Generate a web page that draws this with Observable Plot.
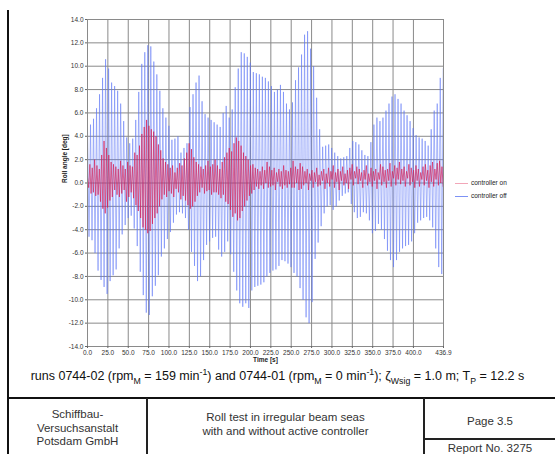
<!DOCTYPE html>
<html>
<head>
<meta charset="utf-8">
<script src="https://cdn.jsdelivr.net/npm/d3@7"></script>
<script src="https://cdn.jsdelivr.net/npm/@observablehq/plot@0.6"></script>
<style>
  html, body { margin: 0; padding: 0; background: #fff; }
  body { width: 555px; height: 454px; position: relative; overflow: hidden; font-family: "Liberation Sans", Arial, sans-serif; }
  #chart { position: absolute; left: 0; top: 0; }
  .abs { position: absolute; }
  .legend { font-size: 6.5px; color: #222; font-family: "Liberation Sans", Arial, sans-serif; }
  .legend span.sw { display: inline-block; width: 13px; height: 0; border-top: 1.5px solid; vertical-align: middle; margin-right: 3px; }
  .caption { font-size: 12.5px; color: #111; white-space: nowrap; text-align: center; width: 555px; }
  .cell { font-size: 11.5px; color: #333; text-align: center; line-height: 13.5px; }
  sub, sup { font-size: 70%; line-height: 0; }
</style>
</head>
<body>
<div id="chart"></div>
<script>
// ---- data ----
const xTicks = [0, 25, 50, 75, 100, 125, 150, 175, 200, 225, 250, 275, 300, 325, 350, 375, 400, 436.9];
const yTicks = [-14, -12, -10, -8, -6, -4, -2, 0, 2, 4, 6, 8, 10, 12, 14];
const tEnd = 436.9;

// controller off: successive roll extremes [deg], one every 1.85 s
const offStep = 1.85;
const offValues = [
  4.9, -4.6, 5.0, -4.9, 5.5, -6.0, 6.4, -7.5, 7.6, -8.3,
  9.0, -8.9, 10.6, -9.5, 9.8, -8.4, 8.6, -7.9, 8.3, -7.4,
  7.9, -5.6, 6.8, -4.4, 5.3, -3.6, 3.9, -3.0, 3.4, -2.8,
  3.8, -3.9, 5.4, -5.4, 7.8, -7.6, 10.2, -9.6, 11.2, -11.1,
  11.8, -11.3, 11.7, -9.7, 10.4, -8.8, 9.3, -7.9, 7.9, -6.3,
  6.4, -5.6, 5.6, -4.8, 4.9, -4.2, 3.7, -3.4, 3.8, -2.7,
  4.0, -2.5, 2.6, -2.6, 3.0, -3.0, 3.4, -4.0, 6.5, -5.9,
  7.6, -7.1, 8.6, -8.4, 9.2, -8.0, 7.0, -6.6, 5.9, -5.3,
  5.6, -5.0, 5.4, -4.7, 5.2, -4.6, 5.0, -5.7, 4.8, -6.3,
  6.0, -5.9, 6.6, -5.0, 5.6, -6.1, 6.3, -7.6, 8.2, -9.2,
  9.8, -10.3, 11.2, -10.6, 11.1, -10.3, 10.8, -10.7, 10.3, -9.2,
  9.5, -8.9, 9.4, -8.8, 9.3, -8.7, 9.1, -8.5, 9.0, -8.0,
  8.7, -7.7, 8.3, -7.5, 7.8, -7.4, 8.0, -7.1, 8.4, -6.6,
  7.8, -6.7, 6.8, -6.9, 6.3, -7.2, 6.9, -7.7, 8.8, -8.0,
  9.9, -9.0, 11.0, -10.0, 12.7, -11.5, 13.0, -12.0, 11.5, -10.2,
  10.0, -6.5, 7.3, -5.1, 4.6, -3.7, 3.1, -2.6, 3.2, -2.0,
  3.3, -1.9, 3.0, -2.3, 2.6, -2.0, 2.3, -1.5, 2.1, -1.1,
  2.2, -0.9, 2.3, -0.8, 3.0, -1.8, 3.6, -2.5, 3.5, -3.0,
  3.3, -2.9, 2.8, -2.5, 2.4, -2.6, 2.3, -3.2, 3.5, -4.3,
  5.0, -4.1, 5.6, -3.5, 5.3, -4.0, 5.6, -4.8, 6.2, -5.8,
  6.8, -6.6, 7.4, -7.2, 7.6, -6.6, 7.2, -5.9, 6.8, -5.6,
  6.2, -5.4, 5.8, -5.3, 5.3, -5.0, 4.7, -4.3, 4.1, -3.4,
  3.9, -3.2, 3.8, -3.0, 3.6, -2.9, 3.2, -3.2, 4.6, -3.8,
  6.2, -5.6, 6.8, -7.2, 9.0, -7.8, 9.8
];

// controller on: roll samples [deg], every 1.45 s
const onStep = 1.45;
const onValues = [
  0.5, -0.4, 1.6, -0.9, 1.3, -0.8, 2.0, -1.1, 1.5, -1.0,
  1.2, -1.6, 2.4, -2.2, 3.6, -2.6, 3.0, -2.1, 2.4, -1.5,
  1.8, -1.2, 1.6, -0.6, 1.4, -1.0, 1.2, -1.2, 1.9, -0.9,
  1.5, -0.6, 1.2, -1.6, 1.8, -1.2, 1.5, -0.8, 1.4, -1.3,
  2.6, -1.9, 2.4, -2.4, 3.2, -3.0, 4.2, -3.8, 4.8, -4.0,
  5.4, -4.3, 4.9, -4.1, 4.6, -3.5, 4.4, -3.0, 4.0, -2.6,
  3.3, -2.0, 2.8, -1.4, 2.1, -1.0, 1.8, -1.2, 1.6, -0.7,
  1.3, -0.9, 1.5, -1.2, 0.9, -0.5, 1.3, -0.8, 1.7, -1.4,
  1.5, -1.1, 2.1, -1.5, 2.6, -1.9, 3.4, -2.2, 2.9, -2.0,
  2.2, -1.6, 1.8, -1.1, 1.6, -0.8, 1.4, -0.4, 1.2, -0.9,
  1.5, -0.7, 1.9, -0.6, 1.4, -1.0, 1.6, -0.8, 2.0, -0.8,
  1.5, -1.0, 1.2, -1.3, 1.8, -1.0, 2.2, -1.6, 2.6, -1.8,
  3.0, -2.3, 2.7, -2.9, 3.4, -2.6, 3.9, -3.2, 3.6, -3.0,
  3.2, -2.4, 2.6, -2.0, 2.3, -1.5, 2.0, -1.1, 1.5, -0.9,
  1.6, -0.6, 1.3, -0.3, 1.2, -0.5, 1.0, -0.2, 1.4, -0.5,
  1.1, 0.0, 1.8, -0.4, 1.4, -0.3, 1.1, -0.2, 1.3, -0.6,
  0.9, 0.1, 1.2, -0.3, 1.0, -0.5, 1.5, -0.2, 1.1, -0.4,
  1.0, -0.1, 1.3, -0.4, 1.9, -0.4, 1.4, 0.0, 1.2, -0.6,
  1.7, -0.5, 1.4, -0.2, 1.0, 0.0, 1.2, -0.6, 0.8, 0.2,
  1.1, -0.4, 0.9, 0.1, 1.3, -0.3, 0.7, -0.2, 1.0, 0.2,
  1.2, -0.5, 0.8, 0.0, 1.3, -0.3, 1.0, 0.3, 1.5, -0.4,
  0.9, 0.1, 1.2, -0.6, 1.0, 0.2, 1.4, -0.2, 0.8, 0.0,
  1.1, -0.5, 1.3, 0.3, 1.6, -0.2, 1.0, 0.4, 1.4, -0.1,
  1.2, 0.2, 0.9, -0.4, 1.1, 0.3, 1.5, -0.2, 0.8, 0.1,
  1.3, -0.3, 1.0, 0.2, 1.2, -0.5, 0.9, 0.3, 1.6, -0.2,
  1.4, 0.1, 1.1, -0.4, 1.2, 0.2, 1.7, -0.3, 1.0, 0.4,
  1.5, -0.2, 1.3, 0.3, 1.8, -0.1, 1.2, 0.2, 1.4, -0.3,
  1.0, 0.4, 1.6, -0.2, 1.3, 0.1, 1.1, -0.4, 1.5, 0.2,
  1.2, -0.3, 0.9, 0.3, 1.4, -0.2, 1.6, 0.2, 1.1, -0.4,
  1.5, 0.1, 1.8, -0.3, 1.2, 0.3, 1.7, -0.2, 1.9, 0.0,
  1.4, -0.3
];

const seriesNames = ["controller on", "controller off"];
const seriesColors = ["#d41c55", "#5d76f6"];
const legendColors = ["#f2a6b8", "#7d92f5"];

// ---- tables ----
const offData = offValues.map((v, i) => ({t: Math.min(i * offStep, tEnd), v}));
const onData = onValues.map((v, i) => ({t: Math.min(i * onStep, tEnd), v}));
const fmt = d => d.toFixed(1);

const chart = Plot.plot({
  width: 555,
  height: 370,
  marginLeft: 87,
  marginRight: 112,
  marginTop: 19,
  marginBottom: 24,
  style: {fontFamily: "'Liberation Sans', Arial, sans-serif", fontSize: "6.5px", color: "#333", background: "transparent"},
  x: {domain: [0, tEnd], label: null},
  y: {domain: [-14, 14], label: null},
  marks: [
    Plot.gridX(xTicks, {stroke: "#8a8a8a", strokeOpacity: 1, strokeWidth: 1}),
    Plot.gridY(yTicks, {stroke: "#8a8a8a", strokeOpacity: 1, strokeWidth: 1}),
    Plot.lineY(offData, {x: "t", y: "v", stroke: seriesColors[1], strokeWidth: 0.75, strokeOpacity: 0.7}),
    Plot.lineY(onData, {x: "t", y: "v", stroke: seriesColors[0], strokeWidth: 0.8, strokeOpacity: 0.8}),
    Plot.frame({stroke: "#8a8a8a"}),
    Plot.axisX(xTicks, {tickFormat: fmt, tickSize: 2, tickPadding: 2, label: null, stroke: "#666"}),
    Plot.axisY(yTicks, {tickFormat: fmt, tickSize: 2, tickPadding: 2, label: null, stroke: "#666"}),
    Plot.text(["Time [s]"], {frameAnchor: "bottom", dy: 15, fontWeight: "bold", fontSize: 6.5, fill: "#222"}),
    Plot.text(["Roll angle [deg]"], {frameAnchor: "left", rotate: -90, dx: -23, fontWeight: "bold", fontSize: 6.5, fill: "#222"})
  ]
});
document.getElementById("chart").appendChild(chart);

// legend
const legend = document.createElement("div");
legend.className = "abs legend";
legend.style.left = "455px";
legend.style.top = "178px";
legend.innerHTML = seriesNames.map((n, i) =>
  `<div style="height:13px;line-height:10px"><span class="sw" style="border-color:${legendColors[i]}"></span>${n}</div>`).join("");
document.body.appendChild(legend);
</script>

<!-- page frame -->
<div class="abs" style="left:7px;top:10px;width:2px;height:444px;background:#111"></div>

<div class="abs caption" style="left:0;top:369px;">runs 0744-02 (rpm<sub>M</sub> = 159 min<sup>-1</sup>) and 0744-01 (rpm<sub>M</sub> = 0 min<sup>-1</sup>); ζ<sub>Wsig</sub> = 1.0 m; T<sub>P</sub> = 12.2 s</div>

<div class="abs" style="left:7px;top:397px;width:548px;height:2px;background:#111"></div>
<div class="abs" style="left:146px;top:398px;width:2px;height:56px;background:#222"></div>
<div class="abs" style="left:423px;top:398px;width:2px;height:56px;background:#222"></div>
<div class="abs" style="left:424px;top:438px;width:131px;height:2px;background:#222"></div>

<div class="abs cell" style="left:9px;top:408px;width:137px;">Schiffbau-<br>Versuchsanstalt<br>Potsdam GmbH</div>
<div class="abs cell" style="left:148px;top:411px;width:275px;">Roll test in irregular beam seas<br>with and without active controller</div>
<div class="abs cell" style="left:425px;top:415px;width:130px;">Page 3.5</div>
<div class="abs cell" style="left:425px;top:442px;width:130px;">Report No. 3275</div>
</body>
</html>
